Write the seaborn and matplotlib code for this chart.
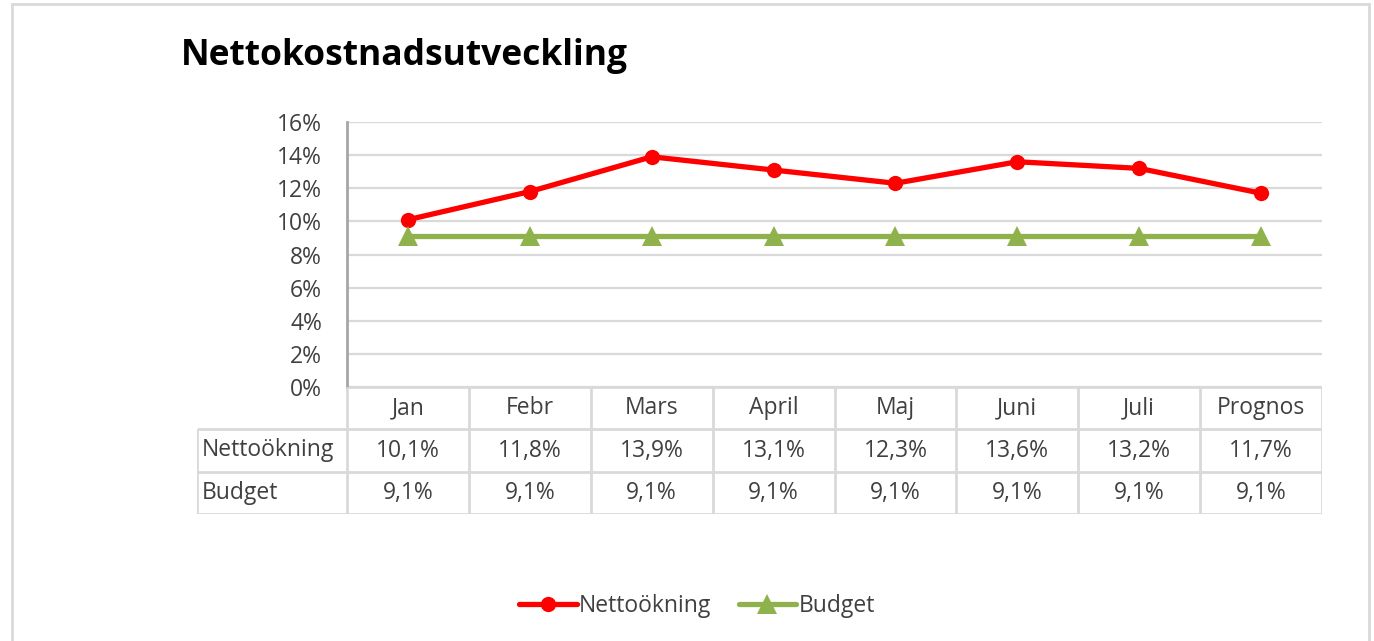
import matplotlib
matplotlib.use("Agg")
import matplotlib.pyplot as plt
from matplotlib.patches import Rectangle
from matplotlib.lines import Line2D
from matplotlib.ticker import PercentFormatter
import seaborn as sns
import pandas as pd

# Monthly figures (percent)
months = ["Jan", "Febr", "Mars", "April", "Maj", "Juni", "Juli", "Prognos"]
netto = [10.1, 11.8, 13.9, 13.1, 12.3, 13.6, 13.2, 11.7]
budget = [9.1, 9.1, 9.1, 9.1, 9.1, 9.1, 9.1, 9.1]
series_names = ["Nettoökning", "Budget"]
title = "Nettokostnadsutveckling"

sns.set_style("white")
plt.rcParams["font.family"] = ["Open Sans", "DejaVu Sans"]

RED = "#FF0000"
GREEN = "#8FB24C"
GRID = "#D9D9D9"
TXT = "#404040"
FS = 16.5

df = pd.DataFrame({
    "pos": list(range(len(months))) * 2,
    "value": netto + budget,
    "serie": [series_names[0]] * len(months) + [series_names[1]] * len(months),
})

fig = plt.figure(figsize=(13.74, 6.41), dpi=100)
W, H = 1374, 641

def fx(px):
    return px / W

def fy(py):
    return 1 - py / H

# outer frame
fig.patches.append(Rectangle((fx(12), fy(641) - 0.01), fx(1369 - 12), fy(4) - fy(641) + 0.01,
                             transform=fig.transFigure, fill=False, edgecolor=GRID, lw=2))

ax = fig.add_axes([fx(347), fy(387), fx(1322 - 347), fy(122) - fy(387)])
sns.lineplot(data=df, x="pos", y="value", hue="serie", style="serie",
             palette={series_names[0]: RED, series_names[1]: GREEN},
             markers={series_names[0]: "o", series_names[1]: "^"},
             dashes=False, linewidth=3.8, markersize=11, markeredgewidth=0,
             ax=ax, legend=False)
# triangle markers a bit larger
for line in ax.get_lines():
    if line.get_marker() == "^":
        line.set_markersize(14)

ax.set_xlim(-0.5, len(months) - 0.5)
ax.set_ylim(0, 16)
ax.set_yticks(range(0, 17, 2))
ax.yaxis.set_major_formatter(PercentFormatter(decimals=0))
ax.set_xticks([])
ax.set_xlabel("")
ax.set_ylabel("")
ax.grid(axis="y", color=GRID, lw=1.6)
ax.set_axisbelow(True)
for s in ["top", "right", "bottom"]:
    ax.spines[s].set_visible(False)
ax.spines["left"].set_color("#A6A6A6")
ax.spines["left"].set_linewidth(2)
ax.tick_params(axis="y", length=0, pad=18, labelsize=FS, labelcolor=TXT)

# data table under the plot, columns aligned with the categories
col_w_px = (1322 - 347) / len(months)
label_w = (347 - 197) / col_w_px
x0 = -0.5 - label_w
x1 = len(months) - 0.5
tax = fig.add_axes([fx(197), fy(514), fx(1322 - 197), fy(387) - fy(514)])
tax.set_xlim(x0, x1)
tax.set_ylim(3, 0)
tax.axis("off")
lk = dict(color=GRID, lw=2, solid_capstyle="butt")
# horizontal rules
tax.plot([-0.5, x1], [0, 0], **lk)
for r in (1, 2, 3):
    tax.plot([x0, x1], [r, r], **lk)
# vertical rules
tax.plot([x0, x0], [1, 3], **lk)
for i in range(len(months) + 1):
    tax.plot([i - 0.5, i - 0.5], [0, 3], **lk)

for i, m in enumerate(months):
    tax.text(i, 0.5, m, ha="center", va="center", fontsize=FS, color=TXT)
    tax.text(i, 1.5, f"{netto[i]:.1f}%".replace(".", ","), ha="center", va="center",
             fontsize=FS, color=TXT)
    tax.text(i, 2.5, f"{budget[i]:.1f}%".replace(".", ","), ha="center", va="center",
             fontsize=FS, color=TXT)
tax.text(x0 + 0.04, 1.5, series_names[0], ha="left", va="center", fontsize=FS, color=TXT)
tax.text(x0 + 0.04, 2.5, series_names[1], ha="left", va="center", fontsize=FS, color=TXT)

fig.text(fx(181), fy(56), title, ha="left", va="center", fontsize=25.5,
         fontweight="bold", color="black")

handles = [Line2D([], [], color=RED, lw=3.8, marker="o", markersize=11, markeredgewidth=0),
           Line2D([], [], color=GREEN, lw=3.8, marker="^", markersize=14, markeredgewidth=0)]
leg = fig.legend(handles, series_names, loc="center", bbox_to_anchor=(fx(697), fy(606)),
                 ncol=2, frameon=False, fontsize=FS, handlelength=2.5,
                 handletextpad=0.1, columnspacing=1.2)
for t in leg.get_texts():
    t.set_color(TXT)

fig.savefig("out.png", dpi=100, facecolor="white")
